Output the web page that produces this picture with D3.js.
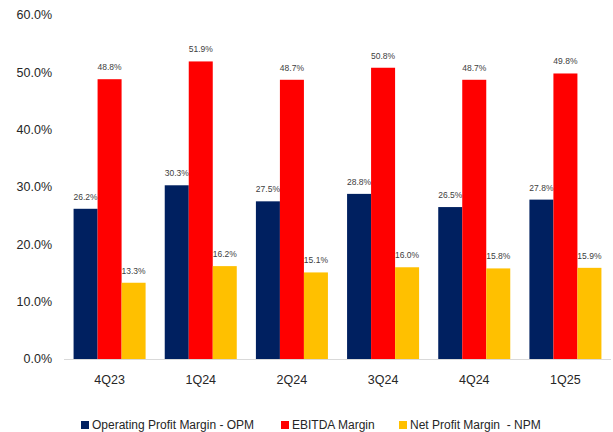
<!DOCTYPE html>
<html>
<head>
<meta charset="utf-8">
<script src="https://cdn.jsdelivr.net/npm/d3@7"></script>
<style>
  body { margin: 0; background: #fff; }
  text { font-family: "Liberation Sans", Arial, sans-serif; white-space: pre; }
</style>
</head>
<body>
<svg id="chart" width="613" height="432"></svg>
<script>
// quarters on the x axis
const quarters = ["4Q23", "1Q24", "2Q24", "3Q24", "4Q24", "1Q25"];
// margins in percent, one array per series
const opm = [26.2, 30.3, 27.5, 28.8, 26.5, 27.8];
const ebitda = [48.8, 51.9, 48.7, 50.8, 48.7, 49.8];
const npm = [13.3, 16.2, 15.1, 16.0, 15.8, 15.9];
const seriesNames = ["Operating Profit Margin - OPM", "EBITDA Margin", "Net Profit Margin  - NPM"];
const yTicks = [0, 10, 20, 30, 40, 50, 60];

const colors = ["#002060", "#FF0000", "#FFC000"];
const series = [opm, ebitda, npm];

const svg = d3.select("#chart");
const plotLeft = 64, plotRight = 611, plotTop = 15, plotBottom = 359;

const x = d3.scaleBand().domain(quarters).range([plotLeft, plotRight]).paddingInner(0.21).paddingOuter(0.105);
const xs = d3.scaleBand().domain([0, 1, 2]).range([0, x.bandwidth()]);
const y = d3.scaleLinear().domain([0, 60]).range([plotBottom, plotTop]);

// y axis labels, no line
svg.append("g")
  .selectAll("text")
  .data(yTicks)
  .join("text")
  .attr("x", 52)
  .attr("y", d => y(d))
  .attr("dy", "0.35em")
  .attr("text-anchor", "end")
  .attr("font-size", 12.5)
  .attr("fill", "#262626")
  .text(d => d.toFixed(1) + "%");

// bars
series.forEach((vals, s) => {
  const g = svg.append("g");
  g.selectAll("rect")
    .data(vals)
    .join("rect")
    .attr("x", (d, i) => x(quarters[i]) + xs(s))
    .attr("y", d => y(d))
    .attr("width", xs.bandwidth())
    .attr("height", d => plotBottom - y(d))
    .attr("fill", colors[s]);

  g.selectAll("text")
    .data(vals)
    .join("text")
    .attr("x", (d, i) => x(quarters[i]) + xs(s) + xs.bandwidth() / 2)
    .attr("y", d => y(d) - 9)
    .attr("text-anchor", "middle")
    .attr("font-size", 8.5)
    .attr("fill", "#404040")
    .text(d => d.toFixed(1) + "%");
});

// baseline
svg.append("line")
  .attr("x1", plotLeft).attr("x2", plotRight)
  .attr("y1", plotBottom + 0.5).attr("y2", plotBottom + 0.5)
  .attr("stroke", "#d9d9d9")
  .attr("stroke-width", 1);

// category labels
svg.append("g")
  .selectAll("text")
  .data(quarters)
  .join("text")
  .attr("x", d => x(d) + x.bandwidth() / 2)
  .attr("y", 380)
  .attr("dy", "0.35em")
  .attr("text-anchor", "middle")
  .attr("font-size", 12.5)
  .attr("fill", "#262626")
  .text(d => d);

// legend
const legendX = [81, 281, 399];
const legend = svg.append("g")
  .selectAll("g")
  .data(seriesNames)
  .join("g")
  .attr("transform", (d, i) => `translate(${legendX[i]},425)`);
legend.append("rect")
  .attr("x", 0).attr("y", -4)
  .attr("width", 8).attr("height", 8)
  .attr("fill", (d, i) => colors[i]);
legend.append("text")
  .attr("x", 11)
  .attr("y", 0)
  .attr("dy", "0.35em")
  .attr("font-size", 12)
  .attr("fill", "#262626")
  .text(d => d);
</script>
</body>
</html>
